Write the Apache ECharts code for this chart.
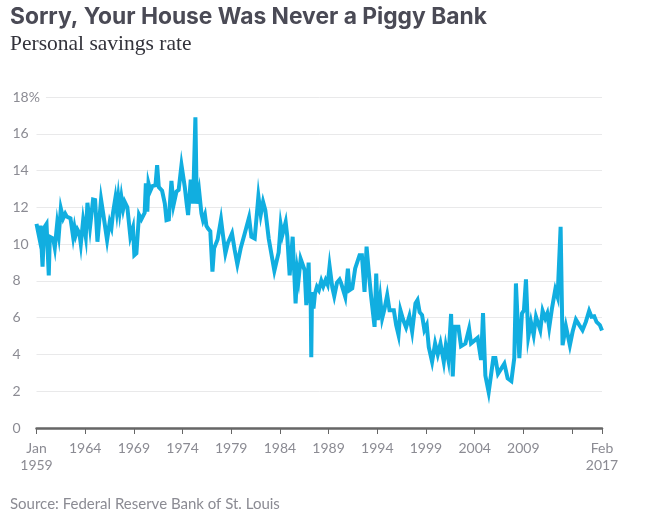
<!DOCTYPE html>
<html lang="en">
<head>
    <meta charset="UTF-8">
    <title>Personal savings rate</title>
    <script src="https://cdn.jsdelivr.net/npm/echarts@6/dist/echarts.min.js"></script>
    <style>
        html, body { margin: 0; padding: 0; background: #fff; }
    </style>
</head>
<body>
    <div id="main" style="width: 652px;height:522px;"></div>
    <script type="text/javascript">
        // years since Jan 1959
        var yearsSince1959 = [
            0, 0.1, 0.27, 0.41, 0.62, 0.79, 1.03, 1.26, 1.37, 1.71, 1.88, 2.12, 2.29, 2.5, 2.74,
            2.95, 3.1, 3.3, 3.49, 3.6, 3.76, 3.9, 4.03, 4.2, 4.4, 4.55, 4.79, 5.06, 5.23, 5.5,
            5.81, 6.02, 6.26, 6.63, 6.84, 7.25, 7.52, 7.7, 7.86, 8.1, 8.25, 8.4, 8.55, 8.72, 8.9,
            9.06, 9.33, 9.64, 9.91, 10.05, 10.26, 10.4, 10.53, 10.77, 11.11, 11.23, 11.38, 11.5, 11.69, 11.9,
            12.22, 12.39, 12.56, 12.9, 13.18, 13.35, 13.59, 13.86, 14.07, 14.37, 14.6, 14.89, 15.23, 15.4, 15.57,
            15.84, 16.08, 16.32, 16.46, 16.7, 16.94, 17.1, 17.3, 17.45, 17.62, 17.85, 18.07, 18.24, 18.6, 18.95,
            19.15, 19.4, 19.65, 19.85, 20.08, 20.35, 20.63, 20.97, 21.4, 21.83, 22.07, 22.41, 22.79, 23.03, 23.27,
            23.5, 23.85, 24.05, 24.43, 24.87, 25.08, 25.25, 25.59, 25.76, 26, 26.31, 26.61, 26.79, 26.92, 27.13,
            27.54, 27.71, 27.95, 28.05, 28.15, 28.22, 28.3, 28.45, 28.6, 28.8, 29, 29.25, 29.45, 29.69, 29.9,
            30.1, 30.38, 30.58, 30.86, 31.13, 31.27, 31.71, 31.98, 32.15, 32.43, 32.73, 33.18, 33.42, 33.69, 33.9,
            34.14, 34.37, 34.72, 34.89, 35.06, 35.3, 35.5, 35.75, 36.02, 36.26, 36.7, 36.94, 37.18, 37.38, 37.65,
            37.96, 38.3, 38.58, 38.92, 39.13, 39.35, 39.6, 39.84, 40.08, 40.29, 40.63, 40.94, 41.21, 41.49, 41.83,
            42.03, 42.3, 42.58, 42.75, 42.99, 43.33, 43.6, 44.05, 44.43, 44.63, 45.31, 45.66, 45.86, 46.1, 46.44,
            46.92, 47.13, 47.4, 48.05, 48.39, 48.77, 49.07, 49.24, 49.59, 49.86, 50.06, 50.27, 50.51, 50.78, 51.06,
            51.3, 51.74, 51.98, 52.25, 52.46, 52.66, 52.94, 53.28, 53.52, 53.83, 54.03, 54.37, 54.78, 55.06, 55.4,
            55.74, 56.08, 56.42, 56.76, 57, 57.28, 57.52, 57.86, 58.08
        ];
        // personal savings rate, %
        var savingsRate = [
            11.1, 11.12, 10.4, 11, 8.77, 10.9, 11.1, 8.3, 10.4, 10.3, 9.8, 11.1, 10.5, 11.94, 11.4,
            11.65, 11.5, 11.6, 11.4, 11, 10.4, 10.9, 10.5, 10.8, 10.6, 10, 11.3, 10.4, 12.25, 10.94,
            12.43, 12.4, 10.13, 12.43, 11.7, 10.22, 11.2, 10.9, 11.7, 12.5, 11.8, 12.55, 11.8, 12.55, 11.9,
            12.3, 12, 10.4, 10.9, 9.4, 9.5, 10.6, 11.6, 11.35, 11.7, 13.3, 11.76, 13.3, 12.9, 13.15,
            13.2, 14.3, 13.1, 12.9, 12.2, 11.3, 11.34, 13.44, 12.12, 12.85, 12.95, 14.3, 13.1, 12.3, 11.58,
            13.5, 12.2, 16.9, 12.2, 12.9, 11.67, 11.3, 11.6, 11, 10.85, 10.7, 8.5, 9.77, 10.25, 11.34,
            10.5, 9.5, 10.05, 10, 10.58, 9.7, 8.9, 9.77, 10.6, 11.45, 10.4, 10.3, 12.6, 11.6, 12.3,
            11.85, 10.3, 10.4, 8.55, 9.55, 11.05, 10.5, 11.2, 10.4, 8.3, 10.4, 6.77, 8.55, 8.1, 9.2,
            8.58, 6.68, 9, 6.8, 7.3, 3.85, 7.4, 6.5, 7.3, 7.68, 7.5, 8, 7.7, 8.05, 7.8,
            8.8, 7.65, 7.17, 7.9, 8.07, 7.9, 7.13, 8.67, 7.5, 7.6, 8.68, 9.4, 9.4, 7.4, 9.86,
            8.4, 7.14, 5.5, 8.4, 5.87, 7.05, 5.96, 6.5, 7.23, 6.4, 6.4, 5.6, 5.06, 6.4, 5.9,
            5.47, 6.09, 5.24, 6.78, 6.96, 6.3, 6.14, 5.33, 5.6, 4.4, 3.6, 4.6, 4, 4.6, 3.6,
            4.46, 3.7, 6.2, 2.8, 5.5, 5.5, 4.45, 4.6, 5.4, 4.6, 4.9, 3.7, 6.25, 2.85, 1.95,
            3.8, 3.8, 2.95, 3.5, 2.7, 2.55, 3.8, 7.86, 3.8, 6.23, 6.4, 8.08, 4.96, 5.77, 5.05,
            6.05, 5.32, 6.37, 5.96, 6.23, 5.47, 6.5, 7.53, 7.13, 10.94, 4.5, 5.54, 4.5, 5.23, 5.9,
            5.6, 5.32, 5.77, 6.37, 6.05, 6.08, 5.77, 5.6, 5.3
        ];
        var xTickLabels = {0: 'Jan\n1959', 5: '1964', 10: '1969', 15: '1974', 20: '1979', 25: '1984', 30: '1989',
            35: '1994', 40: '1999', 45: '2004', 50: '2009', 55: '', 58.08: 'Feb\n2017'};

        var points = yearsSince1959.map(function (t, i) { return [t, savingsRate[i]]; });
        var labelFont = 'Lato';
        var labelColor = '#8b8b93';

        var myChart = echarts.init(document.getElementById('main'));
        var option = {
            animation: false,
            backgroundColor: '#fff',
            title: [{
                text: 'Sorry, Your House Was Never a Piggy Bank',
                left: 10, top: 6, padding: 0,
                textStyle: {color: '#4a4a55', fontSize: 22.8, fontWeight: 'bold', fontFamily: 'Inter'}
            }, {
                text: 'Personal savings rate',
                left: 10, top: 33, padding: 0,
                textStyle: {color: '#33333b', fontSize: 21.5, fontWeight: 'normal', fontFamily: 'Liberation Serif'}
            }, {
                text: 'Source: Federal Reserve Bank of St. Louis',
                left: 10, top: 497, padding: 0,
                textStyle: {color: labelColor, fontSize: 15, fontWeight: 'normal', fontFamily: labelFont}
            }],
            grid: {left: 36.5, right: 50, top: 97, bottom: 94},
            xAxis: {
                type: 'value',
                min: 0,
                max: 58.08,
                interval: 5,
                splitLine: {show: false},
                axisLine: {onZero: false, lineStyle: {color: '#666', width: 2.5}},
                axisTick: {show: true, length: 6, lineStyle: {color: '#666', width: 1}},
                axisLabel: {
                    color: labelColor, fontSize: 14, fontFamily: labelFont, margin: 12, lineHeight: 17,
                    showMinLabel: true, showMaxLabel: true, hideOverlap: false,
                    formatter: function (v) { return xTickLabels[v] !== undefined ? xTickLabels[v] : ''; }
                }
            },
            yAxis: {
                type: 'value',
                min: 0,
                max: 18,
                interval: 2,
                axisLine: {show: false},
                axisTick: {show: false},
                splitLine: {lineStyle: {color: '#e9e9ea', width: 1}},
                axisLabel: {
                    color: labelColor, fontSize: 14, fontFamily: labelFont, margin: 24, align: 'left',
                    backgroundColor: '#fff', padding: [0, 6, 0, 0],
                    formatter: function (v) { return v === 18 ? '18%' : String(v); }
                }
            },
            series: [{
                name: 'Personal savings rate',
                type: 'line',
                data: points,
                symbol: 'none',
                smooth: false,
                lineStyle: {color: '#11aee0', width: 4, join: 'miter'}
            }]
        };
        myChart.setOption(option);
    </script>
</body>
</html>
